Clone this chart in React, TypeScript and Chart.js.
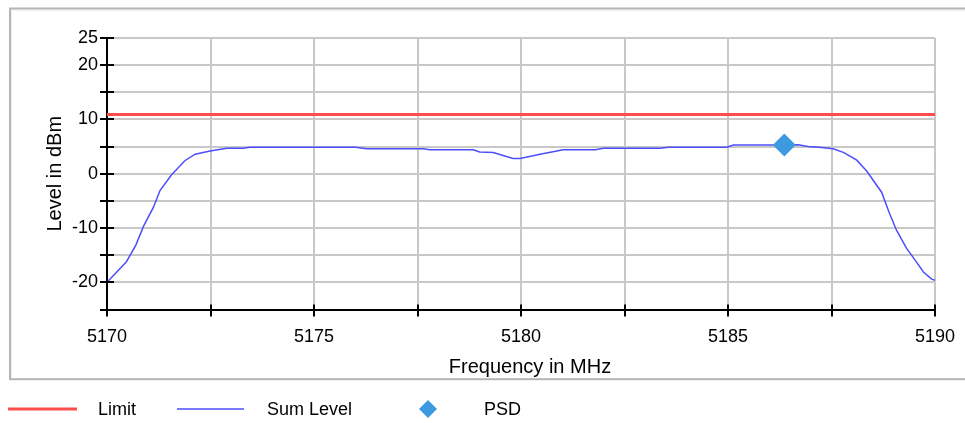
import React, { useEffect, useRef } from "react";
import { Chart, registerables } from "chart.js";

Chart.register(...registerables);

// ---- data ----
const freqs = [5170.0, 5170.47, 5170.7, 5170.88, 5171.12, 5171.28, 5171.56, 5171.88, 5172.13, 5172.49, 5172.89, 5173.29, 5173.45, 5176.0, 5176.27, 5177.64, 5177.8, 5178.85, 5179.0, 5179.33, 5179.81, 5179.98, 5180.46, 5181.02, 5181.79, 5181.99, 5183.36, 5183.56, 5184.97, 5185.13, 5186.26, 5186.7, 5186.93, 5187.2, 5187.54, 5187.8, 5188.11, 5188.35, 5188.71, 5188.89, 5189.07, 5189.31, 5189.52, 5189.72, 5189.92, 5190.0];
const sumLevels = [-20.0, -16.2, -13.1, -9.7, -6.2, -3.1, -0.2, 2.4, 3.6, 4.2, 4.7, 4.7, 4.9, 4.9, 4.6, 4.6, 4.4, 4.4, 4.0, 3.9, 2.8, 2.8, 3.6, 4.4, 4.4, 4.7, 4.7, 4.9, 4.9, 5.3, 5.3, 5.35, 5.0, 4.9, 4.6, 3.9, 2.5, 0.5, -3.4, -7.1, -10.4, -13.7, -15.9, -18.1, -19.4, -19.6];
const limitFreqs = [5170, 5190];
const limitLevels = [10.9, 10.9];
const psdFreqs = [5186.36];
const psdLevels = [5.3];
const yTickLabels = [25, 20, 10, 0, -10, -20];
const xTickLabels = [5170, 5175, 5180, 5185, 5190];
const legendLabels = ["Limit", "Sum Level", "PSD"];
const xTitle = "Frequency in MHz";
const yTitle = "Level in dBm";

const FONT = "'Liberation Sans', Arial, sans-serif";
const RED = "#ff4d4d";
const BLUE = "#4d4dff";
const PSD_BLUE = "#3e9ae0";

const framePlugin = {
  id: "frame",
  beforeDraw(chart: any) {
    const ctx = chart.ctx;
    ctx.save();
    ctx.fillStyle = "#ffffff";
    ctx.fillRect(0, 0, chart.width, chart.height);
    ctx.strokeStyle = "#eeeeee";
    ctx.lineWidth = 1;
    ctx.beginPath();
    ctx.moveTo(11.5, 378);
    ctx.lineTo(11.5, 10.5);
    ctx.lineTo(1000, 10.5);
    ctx.stroke();
    ctx.strokeStyle = "#b4b4b4";
    ctx.lineWidth = 2;
    ctx.strokeRect(10, 8.5, 1000, 370.7);
    ctx.restore();
  },
};

const ticksPlugin = {
  id: "crossTicks",
  afterDraw(chart: any) {
    const ctx = chart.ctx;
    const { left, bottom } = chart.chartArea;
    const ys = chart.scales.y;
    const xs = chart.scales.x;
    ctx.save();
    ctx.strokeStyle = "#000";
    ctx.lineWidth = 2;
    ctx.beginPath();
    ys.ticks.forEach((t: any) => {
      const p = Math.round(ys.getPixelForValue(t.value));
      ctx.moveTo(left - 7, p);
      ctx.lineTo(left + 7, p);
    });
    xs.ticks.forEach((t: any) => {
      const p = Math.round(xs.getPixelForValue(t.value));
      ctx.moveTo(p, bottom - 5);
      ctx.lineTo(p, bottom + 7);
    });
    ctx.stroke();

    // x axis title
    ctx.fillStyle = "#000";
    ctx.font = `20px ${FONT}`;
    ctx.textAlign = "center";
    ctx.textBaseline = "middle";
    ctx.fillText(xTitle, 530, 367);

    // legend
    const ds = chart.data.datasets;
    const ly = 409;
    ctx.font = `18px ${FONT}`;
    ctx.fillStyle = "#000";
    ctx.textBaseline = "middle";
    ctx.textAlign = "left";
    ctx.strokeStyle = ds[0].borderColor;
    ctx.lineWidth = ds[0].borderWidth;
    ctx.beginPath();
    ctx.moveTo(8, ly);
    ctx.lineTo(77, ly);
    ctx.stroke();
    ctx.fillText(legendLabels[0], 98, ly + 1);
    ctx.strokeStyle = ds[1].borderColor;
    ctx.lineWidth = ds[1].borderWidth;
    ctx.beginPath();
    ctx.moveTo(177, ly);
    ctx.lineTo(244, ly);
    ctx.stroke();
    ctx.fillText(legendLabels[1], 267, ly + 1);
    ctx.fillStyle = ds[2].backgroundColor;
    ctx.beginPath();
    const r = 9;
    ctx.moveTo(428, ly - r);
    ctx.lineTo(428 + r, ly);
    ctx.lineTo(428, ly + r);
    ctx.lineTo(428 - r, ly);
    ctx.closePath();
    ctx.fill();
    ctx.fillStyle = "#000";
    ctx.fillText(legendLabels[2], 484, ly + 1);
    ctx.restore();
  },
};

export default function App() {
  const ref = useRef<HTMLCanvasElement | null>(null);
  useEffect(() => {
    if (!ref.current) return;
    const chart = new Chart(ref.current, {
      type: "line",
      data: {
        datasets: [
          {
            label: legendLabels[0],
            data: limitFreqs.map((f, i) => ({ x: f, y: limitLevels[i] })),
            borderColor: RED,
            borderWidth: 3,
            pointRadius: 0,
            tension: 0,
            order: 1,
          },
          {
            label: legendLabels[1],
            data: freqs.map((f, i) => ({ x: f, y: sumLevels[i] })),
            borderColor: BLUE,
            borderWidth: 1.5,
            pointRadius: 0,
            tension: 0,
            order: 1,
          },
          {
            label: legendLabels[2],
            data: psdFreqs.map((f, i) => ({ x: f, y: psdLevels[i] })),
            showLine: false,
            backgroundColor: PSD_BLUE,
            borderColor: PSD_BLUE,
            borderWidth: 0,
            pointStyle: "rectRot",
            pointRadius: 11.5,
            order: -1,
          },
        ],
      },
      options: {
        responsive: false,
        animation: false,
        devicePixelRatio: 1,
        layout: { padding: { left: 0, top: 38, right: 30, bottom: 43.5 } },
        plugins: { legend: { display: false }, tooltip: { enabled: false } },
        scales: {
          x: {
            type: "linear",
            min: 5170,
            max: 5190,
            afterFit: (s: any) => {
              s.height = 70;
              s.paddingLeft = 0;
              s.paddingRight = 0;
            },
            ticks: {
              stepSize: 2.5,
              autoSkip: false,
              maxRotation: 0,
              padding: 17,
              color: "#000",
              font: { family: FONT, size: 18 },
              callback: (v: any) => (xTickLabels.includes(Number(v)) ? String(v) : ""),
            },
            grid: { color: "#c8c8c8", lineWidth: 2, drawTicks: false },
            border: { display: true, color: "#000", width: 2 },
            title: { display: false },
          },
          y: {
            type: "linear",
            min: -25,
            max: 25,
            afterFit: (s: any) => {
              s.width = 107;
              s.paddingTop = 0;
              s.paddingBottom = 0;
            },
            ticks: {
              stepSize: 5,
              autoSkip: false,
              padding: 9,
              color: "#000",
              font: { family: FONT, size: 18 },
              callback: (v: any) => (yTickLabels.includes(Number(v)) ? String(v) : ""),
            },
            grid: { color: "#c8c8c8", lineWidth: 2, drawTicks: false },
            border: { display: true, color: "#000", width: 2 },
            title: {
              display: true,
              text: yTitle,
              color: "#000",
              font: { family: FONT, size: 20 },
              padding: { top: 43, bottom: 0 },
            },
          },
        },
      },
      plugins: [framePlugin, ticksPlugin],
    } as any);
    return () => chart.destroy();
  }, []);
  return (
    <canvas
      ref={ref}
      width={965}
      height={423}
      style={{ position: "fixed", left: 0, top: 0, width: 965, height: 423 }}
    />
  );
}
